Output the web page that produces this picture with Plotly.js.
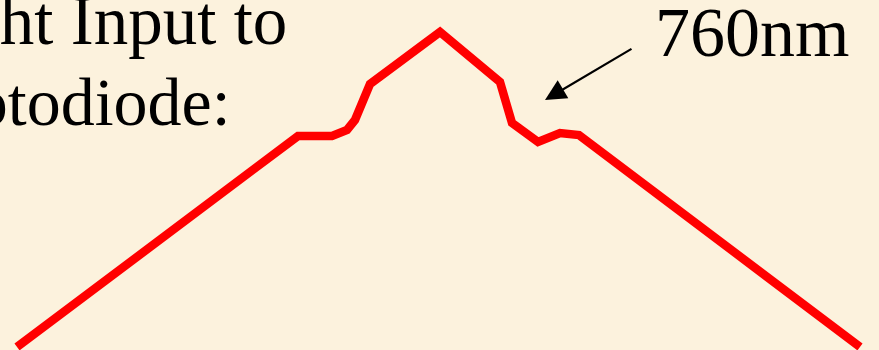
<!DOCTYPE html>
<html>
<head>
<meta charset="utf-8">
<script src="https://cdn.plot.ly/plotly-3.0.1.min.js"></script>
<style>
  html, body { margin: 0; padding: 0; background: #fcf2dd; overflow: hidden; }
  #chart { width: 879px; height: 350px; }
</style>
</head>
<body>
<div id="chart"></div>
<script>
// Spectrum trace (arbitrary horizontal units, relative intensity)
const wavelength = [17, 298, 332, 347, 355, 370, 440, 500, 512, 538, 560, 579, 860];
const intensity  = [3, 214, 214, 220, 230, 266, 318, 268, 227, 208, 217, 215, 3];

// Text labels
const titleLines = ["Light Input to", "Photodiode:"];
const peakLabel = "760nm";
// Arrow: tip point and tail point (same units as the trace)
const arrowTip  = [545, 250];
const arrowTail = [633, 302];

const bg = "#fcf2dd";
const serif = "Liberation Serif, Times New Roman, serif";

const trace = {
  x: wavelength,
  y: intensity,
  type: "scatter",
  mode: "lines",
  line: { color: "#ff0000", width: 8.5, shape: "linear" },
  hoverinfo: "skip",
  showlegend: false
};

const layout = {
  width: 879,
  height: 350,
  margin: { l: 0, r: 0, t: 0, b: 0, pad: 0 },
  paper_bgcolor: bg,
  plot_bgcolor: bg,
  xaxis: { range: [0, 879], visible: false, fixedrange: true },
  yaxis: { range: [0, 350], visible: false, fixedrange: true },
  showlegend: false,
  annotations: [
    {
      text: titleLines[0], xref: "paper", yref: "paper",
      x: 289 / 879, y: 1 + 19 / 350, xanchor: "right", yanchor: "top",
      showarrow: false, font: { family: serif, size: 69, color: "#000000" }
    },
    {
      text: titleLines[1], xref: "paper", yref: "paper",
      x: 233 / 879, y: 1 - 62 / 350, xanchor: "right", yanchor: "top",
      showarrow: false, font: { family: serif, size: 68, color: "#000000" }
    },
    {
      text: peakLabel, xref: "paper", yref: "paper",
      x: 653 / 879, y: 1 + 8 / 350, xanchor: "left", yanchor: "top",
      showarrow: false, font: { family: serif, size: 70, color: "#000000" }
    },
    {
      text: "", xref: "x", yref: "y", axref: "x", ayref: "y",
      x: arrowTip[0], y: arrowTip[1], ax: arrowTail[0], ay: arrowTail[1],
      showarrow: true, arrowhead: 2, arrowsize: 1.9, arrowwidth: 2.2,
      arrowcolor: "#000000"
    }
  ]
};

Plotly.newPlot("chart", [trace], layout, { staticPlot: true, displayModeBar: false });
</script>
</body>
</html>
